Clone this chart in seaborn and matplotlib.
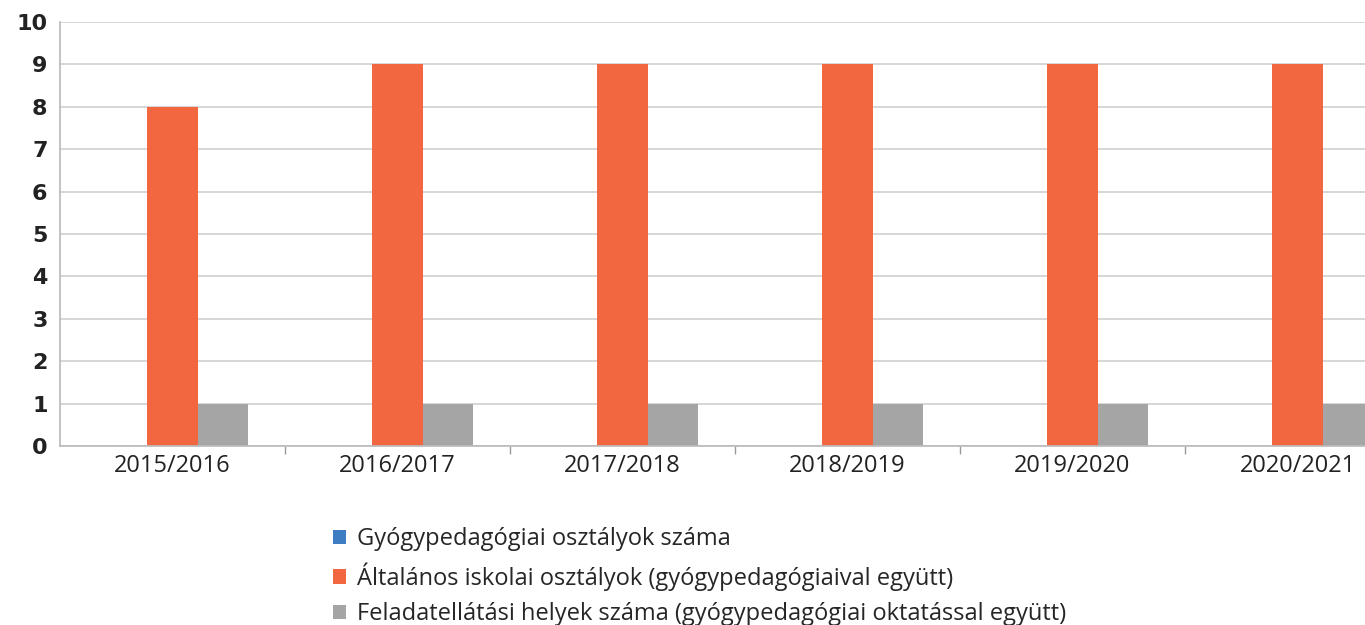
import matplotlib
matplotlib.use("Agg")
import matplotlib.pyplot as plt
import seaborn as sns
import pandas as pd
import numpy as np
from matplotlib.patches import Patch

years = ["2015/2016", "2016/2017", "2017/2018", "2018/2019", "2019/2020", "2020/2021"]
series_names = [
    "Gyógypedagógiai osztályok száma",
    "Általános iskolai osztályok (gyógypedagógiaival együtt)",
    "Feladatellátási helyek száma (gyógypedagógiai oktatással együtt)",
]
gyogyped = [0, 0, 0, 0, 0, 0]
altalanos = [8, 9, 9, 9, 9, 9]
feladat = [1, 1, 1, 1, 1, 1]
colors = ["#3F7DC2", "#F26640", "#A5A5A5"]

rows = []
for name, vals in zip(series_names, [gyogyped, altalanos, feladat]):
    for y, v in zip(years, vals):
        rows.append({"year": y, "series": name, "value": v})
df = pd.DataFrame(rows)

sns.set_theme(style="white")
plt.rcParams["font.family"] = ["Open Sans", "DejaVu Sans"]

fig = plt.figure(figsize=(13.65, 6.25), dpi=100)
ax = fig.add_axes([60 / 1365, 1 - 446 / 625, 1 - 60 / 1365, (446 - 22) / 625])

sns.barplot(data=df, x="year", y="value", hue="series", hue_order=series_names,
            order=years, palette=colors, width=0.667, saturation=1, ax=ax,
            legend=False, linewidth=0)

ax.set_ylim(0, 10)
ax.set_xlim(-0.5, (1365 - 60) / 225 - 0.5)
ax.set_yticks(range(0, 11))
ax.set_yticklabels([str(i) for i in range(0, 11)], fontsize=16, fontweight="bold",
                   family="DejaVu Sans", color="#222222")
ax.yaxis.grid(True, color="#D0D0D0", linewidth=1.2)
ax.set_axisbelow(True)
ax.set_xlabel("")
ax.set_ylabel("")
ax.tick_params(axis="x", which="major", length=0, pad=6, labelsize=17, labelcolor="#222222")
ax.tick_params(axis="y", which="major", length=6, color="#BBBBBB", pad=3)
ax.set_xticks(np.arange(0.5, 5.5, 1), minor=True)
ax.tick_params(axis="x", which="minor", length=6, color="#999999", bottom=True)
for s in ["top", "right"]:
    ax.spines[s].set_visible(False)
ax.spines["left"].set_color("#BBBBBB")
ax.spines["bottom"].set_color("#BBBBBB")

handles = [Patch(facecolor=c, edgecolor="none") for c in colors]
fig.legend(handles, series_names, loc="upper left", bbox_to_anchor=(333 / 1365, 1 - 527 / 625),
           frameon=False, fontsize=17, handlelength=0.55, handleheight=0.55,
           handletextpad=0.45, labelspacing=0.48, borderaxespad=0, borderpad=0)

fig.savefig("out.png", dpi=100)
